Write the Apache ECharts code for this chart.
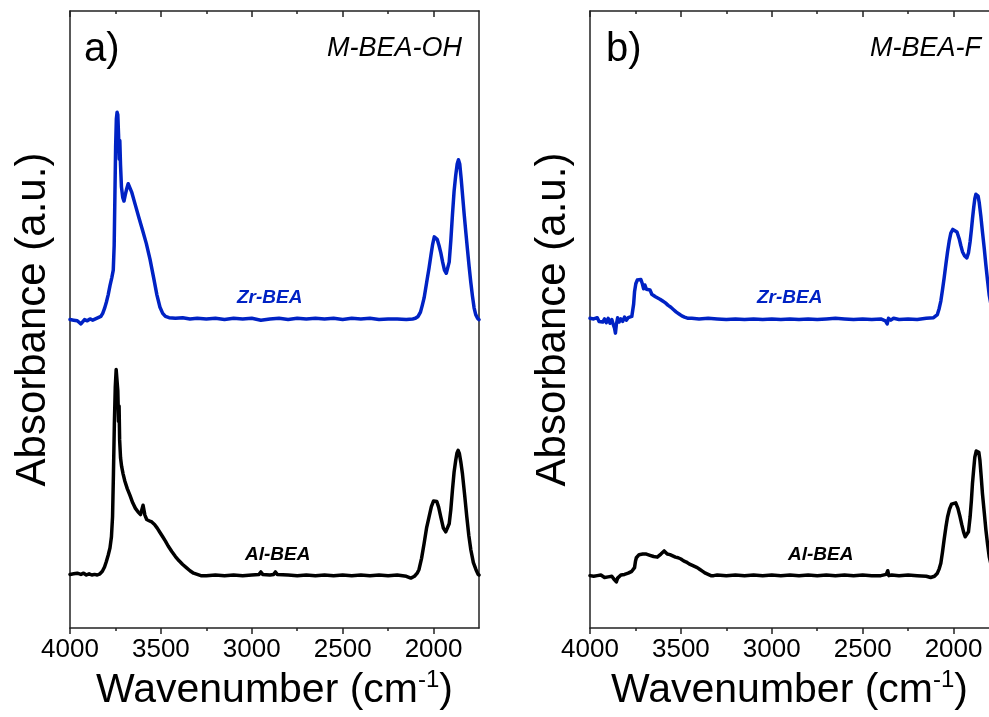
<!DOCTYPE html>
<html>
<head>
<meta charset="utf-8">
<script src="https://cdn.jsdelivr.net/npm/echarts@6/dist/echarts.min.js"></script>
<style>html,body{margin:0;padding:0;background:#fff;}#c{width:989px;height:717px;}</style>
</head>
<body>
<div id="c"></div>
<script>
// ---- data ----
const majorTicks = [2000, 2500, 3000, 3500, 4000];
const minorTicks = [2250, 2750, 3250, 3750];
const panelLabels = ['a)', 'b)'];
const panelTitles = ['M-BEA-OH', 'M-BEA-F'];
const seriesNames = ['Zr-BEA', 'Al-BEA'];

const zrBeaOH = [[4000,50.0],[3990,50.3],[3980,49.9],[3970,50.2],[3960,49.8],[3950,49.9],[3940,49.3],[3932,49.6],[3920,50.0],[3905,49.8],[3890,50.1],[3875,49.9],[3860,50.1],[3845,50.3],[3830,50.5],[3820,51.0],[3810,51.8],[3800,52.8],[3790,54.0],[3780,55.5],[3770,56.8],[3762,58.0],[3757,62],[3753,70],[3749,78],[3745,82.5],[3741,83.6],[3737,83.2],[3733,80],[3729,76],[3726,79],[3722,75],[3717,71.5],[3710,69.8],[3703,69.2],[3696,70.2],[3688,71.2],[3680,72.0],[3672,71.8],[3660,70.6],[3640,68.5],[3620,66.4],[3600,64.4],[3580,62.3],[3560,59.8],[3540,56.8],[3522,54.0],[3505,52.0],[3490,51.0],[3475,50.5],[3455,50.3],[3420,50.2],[3380,50.3],[3340,50.1],[3300,50.2],[3250,50.1],[3200,50.2],[3150,50.0],[3100,50.2],[3050,50.1],[3000,50.2],[2950,49.9],[2900,50.1],[2850,50.2],[2800,50.0],[2750,50.2],[2700,50.1],[2650,50.2],[2600,50.1],[2550,50.2],[2500,50.0],[2450,50.2],[2400,50.1],[2350,50.2],[2300,50.0],[2250,50.1],[2200,50.1],[2150,50.0],[2115,50.1],[2100,50.2],[2085,50.5],[2072,51.2],[2062,52.3],[2052,53.5],[2038,56.0],[2025,58.3],[2014,60.5],[2005,62.2],[1996,63.4],[1988,63.6],[1980,63.0],[1970,62.0],[1960,60.8],[1950,59.3],[1940,58.0],[1930,57.5],[1922,57.8],[1914,59.3],[1905,62.8],[1896,67.0],[1887,70.8],[1878,73.4],[1870,75.2],[1863,75.9],[1856,75.2],[1848,72.8],[1840,70.0],[1832,67.2],[1822,64.0],[1813,61.2],[1804,58.5],[1795,56.0],[1786,53.8],[1777,51.9],[1768,50.8],[1758,50.2],[1750,50.0]];

const alBeaOH = [[4000,8.7],[3990,8.5],[3980,8.8],[3970,8.6],[3960,8.9],[3950,8.6],[3940,8.7],[3925,8.9],[3910,8.6],[3895,8.8],[3880,8.6],[3865,8.7],[3850,8.6],[3835,8.8],[3822,9.2],[3810,9.9],[3800,10.8],[3790,11.8],[3780,13.0],[3772,14.8],[3766,18],[3761,25],[3756,33],[3751,39],[3746,41.9],[3741,41.6],[3737,38.5],[3733,33.5],[3730,36.0],[3727,30.5],[3722,27.6],[3716,26.2],[3708,25.0],[3698,23.8],[3685,22.6],[3670,21.5],[3655,20.3],[3640,19.4],[3625,18.8],[3612,18.4],[3604,18.6],[3598,19.9],[3593,19.6],[3588,18.3],[3578,17.6],[3565,17.4],[3550,17.2],[3535,16.8],[3520,16.2],[3505,15.5],[3490,14.8],[3475,14.1],[3460,13.3],[3440,12.4],[3420,11.6],[3400,10.9],[3380,10.3],[3360,9.8],[3340,9.3],[3320,8.9],[3300,8.7],[3280,8.5],[3250,8.5],[3200,8.6],[3150,8.5],[3100,8.6],[3050,8.5],[3000,8.6],[2960,8.7],[2950,9.1],[2940,8.7],[2900,8.6],[2880,8.7],[2870,9.1],[2860,8.7],[2800,8.6],[2750,8.5],[2700,8.6],[2650,8.5],[2600,8.6],[2550,8.5],[2500,8.6],[2450,8.5],[2400,8.6],[2350,8.5],[2300,8.6],[2250,8.5],[2200,8.6],[2150,8.4],[2125,8.1],[2105,8.4],[2090,8.9],[2080,9.5],[2066,11.3],[2052,13.7],[2038,16.3],[2025,18.0],[2012,19.7],[2000,20.6],[1992,20.8],[1982,20.5],[1972,19.6],[1960,18.0],[1946,16.2],[1933,15.6],[1922,15.9],[1914,16.9],[1905,19.2],[1896,22.4],[1887,25.3],[1878,27.2],[1871,28.4],[1865,28.8],[1858,28.3],[1850,26.9],[1841,25.0],[1829,21.6],[1817,18.0],[1806,15.0],[1795,12.7],[1781,10.6],[1767,9.5],[1755,8.7],[1750,8.6]];

const zrBeaF = [[4000,50.2],[3990,49.9],[3980,50.1],[3970,49.8],[3960,50.3],[3950,49.7],[3940,50.0],[3930,49.6],[3920,50.1],[3910,49.5],[3900,50.2],[3890,49.4],[3880,50.0],[3872,49.2],[3865,48.6],[3860,47.8],[3855,49.2],[3848,50.3],[3840,49.6],[3830,50.1],[3820,49.7],[3810,50.4],[3800,49.9],[3790,50.3],[3780,50.0],[3770,50.5],[3765,50.8],[3760,52.5],[3755,54.5],[3748,55.8],[3740,56.4],[3730,56.7],[3720,56.5],[3712,55.8],[3705,55.0],[3698,55.6],[3690,54.9],[3680,54.6],[3670,54.8],[3660,54.1],[3650,54.2],[3640,53.7],[3630,53.8],[3615,53.3],[3600,53.0],[3585,52.7],[3570,52.3],[3555,52.0],[3540,51.6],[3525,51.2],[3510,50.9],[3495,50.6],[3480,50.4],[3460,50.2],[3440,50.2],[3400,50.1],[3350,50.2],[3300,50.1],[3250,50.0],[3200,50.1],[3150,50.0],[3100,50.1],[3050,50.0],[3000,50.1],[2950,50.0],[2900,50.1],[2850,50.0],[2800,50.1],[2750,50.0],[2700,50.1],[2650,50.2],[2600,50.1],[2550,50.0],[2500,50.1],[2450,50.0],[2400,50.1],[2375,49.8],[2365,49.3],[2358,50.2],[2345,49.9],[2330,50.2],[2300,50.0],[2250,50.1],[2200,50.0],[2150,50.2],[2110,50.3],[2089,50.8],[2079,51.8],[2070,53.0],[2061,54.8],[2052,56.7],[2042,59.0],[2033,61.0],[2024,62.7],[2015,64.0],[2004,64.6],[1993,64.7],[1981,64.2],[1969,63.1],[1960,62.0],[1951,61.0],[1939,60.3],[1927,60.0],[1918,60.8],[1909,62.6],[1902,64.5],[1896,66.3],[1889,68.2],[1883,69.6],[1877,70.3],[1872,70.4],[1865,70.0],[1859,69.0],[1850,66.8],[1841,64.2],[1831,61.5],[1822,58.8],[1813,56.3],[1804,54.0],[1790,51.8],[1775,50.6],[1760,50.2],[1750,50.1]];

const alBeaF = [[4000,8.5],[3990,8.7],[3980,8.4],[3970,8.6],[3960,8.5],[3950,8.3],[3940,8.6],[3930,8.4],[3920,8.2],[3910,8.5],[3900,8.3],[3890,8.1],[3880,8.4],[3870,8.0],[3862,7.8],[3855,7.5],[3848,8.1],[3840,8.3],[3830,8.6],[3820,8.4],[3810,8.7],[3800,8.6],[3790,8.9],[3780,9.0],[3770,9.2],[3762,9.4],[3755,9.8],[3750,10.8],[3745,11.4],[3738,11.7],[3730,11.9],[3720,12.1],[3710,12.0],[3700,12.2],[3690,12.0],[3680,12.1],[3670,11.8],[3660,11.9],[3650,11.6],[3640,11.7],[3630,11.5],[3620,11.8],[3610,12.0],[3600,12.2],[3592,12.5],[3585,12.3],[3575,12.0],[3560,11.9],[3545,11.7],[3530,11.5],[3515,11.4],[3500,11.2],[3485,10.9],[3470,10.7],[3455,10.4],[3440,10.2],[3425,10.0],[3410,9.8],[3395,9.5],[3380,9.2],[3365,8.9],[3350,8.7],[3335,8.5],[3320,8.5],[3300,8.6],[3250,8.5],[3200,8.6],[3150,8.5],[3100,8.6],[3050,8.5],[3000,8.6],[2950,8.5],[2900,8.6],[2850,8.5],[2800,8.6],[2750,8.5],[2700,8.6],[2650,8.5],[2600,8.6],[2550,8.5],[2500,8.6],[2450,8.5],[2400,8.5],[2370,8.7],[2362,9.3],[2356,8.5],[2340,8.6],[2300,8.5],[2250,8.6],[2200,8.5],[2150,8.4],[2126,8.2],[2105,8.4],[2089,8.9],[2079,9.6],[2070,10.5],[2061,12.3],[2052,14.3],[2042,16.4],[2033,18.0],[2022,19.3],[2011,20.1],[2000,20.3],[1988,20.3],[1976,19.4],[1964,18.0],[1955,16.8],[1945,15.6],[1936,14.8],[1927,14.5],[1918,15.6],[1909,18.0],[1902,20.6],[1896,23.4],[1889,25.8],[1883,27.7],[1875,28.7],[1868,29.0],[1861,28.5],[1855,27.2],[1848,24.6],[1841,21.8],[1831,18.7],[1822,15.9],[1813,13.6],[1804,11.6],[1790,9.8],[1775,8.9],[1760,8.6],[1750,8.5]];

// ---- chart ----
const FONT = 'Liberation Sans, Arial, sans-serif';
const BLUE = '#0022c4';
const AXC = '#222';
const chart = echarts.init(document.getElementById('c'), null, {renderer: 'canvas'});

// panel b is cut by the page edge: its visible range ends where the page ends
const panels = [
  {grid: {left: 70, top: 11, width: 409, height: 621}, min: 1750, max: 4000, rightLine: true},
  {grid: {left: 590, top: 11, width: 399, height: 621}, min: 1805, max: 4000, rightLine: false}
];

function xAxes(g) {
  const p = panels[g];
  const base = {gridIndex: g, type: 'value', min: p.min, max: p.max, inverse: true,
    splitLine: {show: false}};
  return [
    Object.assign({}, base, {
      position: 'bottom',
      name: '{t|Wavenumber (cm}{s|-1}{t|)}',
      nameLocation: 'middle', nameGap: 39,
      nameTextStyle: {rich: {
        t: {fontFamily: FONT, fontSize: 41, color: '#000', lineHeight: 46},
        s: {fontFamily: FONT, fontSize: 24, color: '#000', verticalAlign: 'top', lineHeight: 46, padding: [0, 0, 20, 0]}
      }},
      axisLine: {show: true, lineStyle: {color: AXC, width: 1.5}},
      axisTick: {show: true, inside: false, length: 6, customValues: majorTicks, lineStyle: {color: AXC, width: 1.5}},
      axisLabel: {show: true, customValues: majorTicks, margin: 9, fontFamily: FONT, fontSize: 26, color: '#000',
        formatter: function (v) { return String(v); }}
    }),
    Object.assign({}, base, {
      position: 'bottom',
      axisLine: {show: false},
      axisTick: {show: true, inside: false, length: 3, customValues: minorTicks, lineStyle: {color: AXC, width: 1.5}},
      axisLabel: {show: false}
    }),
    Object.assign({}, base, {
      position: 'top',
      axisLine: {show: true, lineStyle: {color: AXC, width: 1.5}},
      axisTick: {show: true, inside: true, length: 6, customValues: majorTicks, lineStyle: {color: AXC, width: 1.5}},
      axisLabel: {show: false}
    }),
    Object.assign({}, base, {
      position: 'top',
      axisLine: {show: false},
      axisTick: {show: true, inside: true, length: 3, customValues: minorTicks, lineStyle: {color: AXC, width: 1.5}},
      axisLabel: {show: false}
    })
  ];
}

function yAxes(g) {
  const base = {gridIndex: g, type: 'value', min: 0, max: 100, splitLine: {show: false},
    axisTick: {show: false}, axisLabel: {show: false},
    axisLine: {show: true, lineStyle: {color: AXC, width: 1.5}}};
  return [
    Object.assign({}, base, {position: 'left', name: 'Absorbance (a.u.)', nameLocation: 'middle', nameGap: 16,
      nameTextStyle: {fontFamily: FONT, fontSize: 42, color: '#000'}}),
    Object.assign({}, base, {position: 'right', axisLine: {show: panels[g].rightLine, lineStyle: {color: AXC, width: 1.5}}})
  ];
}

function line(name, data, xi, yi, color) {
  return {name: name, type: 'line', data: data, xAxisIndex: xi, yAxisIndex: yi,
    showSymbol: false, symbol: 'none', smooth: false, animation: false,
    lineStyle: {color: color, width: 3.5, join: 'round', cap: 'round'}};
}

function txt(x, y, text, size, style, weight, color, align) {
  return {type: 'text', x: x, y: y, style: {text: text, fontFamily: FONT, fontSize: size,
    fontStyle: style, fontWeight: weight, fill: color, align: align || 'left', verticalAlign: 'middle'}};
}

chart.setOption({
  backgroundColor: '#fff',
  animation: false,
  grid: panels.map(function (p) { return p.grid; }),
  xAxis: xAxes(0).concat(xAxes(1)),
  yAxis: yAxes(0).concat(yAxes(1)),
  series: [
    line(seriesNames[0], zrBeaOH, 0, 0, BLUE),
    line(seriesNames[1], alBeaOH, 0, 0, '#000'),
    line(seriesNames[0], zrBeaF, 4, 2, BLUE),
    line(seriesNames[1], alBeaF, 4, 2, '#000')
  ],
  graphic: [
    txt(84, 50, panelLabels[0], 40, 'normal', 'normal', '#000'),
    txt(606, 50, panelLabels[1], 40, 'normal', 'normal', '#000'),
    txt(462, 48, panelTitles[0], 27, 'italic', 'normal', '#000', 'right'),
    txt(981, 48, panelTitles[1], 27, 'italic', 'normal', '#000', 'right'),
    txt(237, 298, seriesNames[0], 19, 'italic', 'bold', BLUE),
    txt(245, 555, seriesNames[1], 19, 'italic', 'bold', '#000'),
    txt(757, 298, seriesNames[0], 19, 'italic', 'bold', BLUE),
    txt(788, 555, seriesNames[1], 19, 'italic', 'bold', '#000')
  ]
});
</script>
</body>
</html>
